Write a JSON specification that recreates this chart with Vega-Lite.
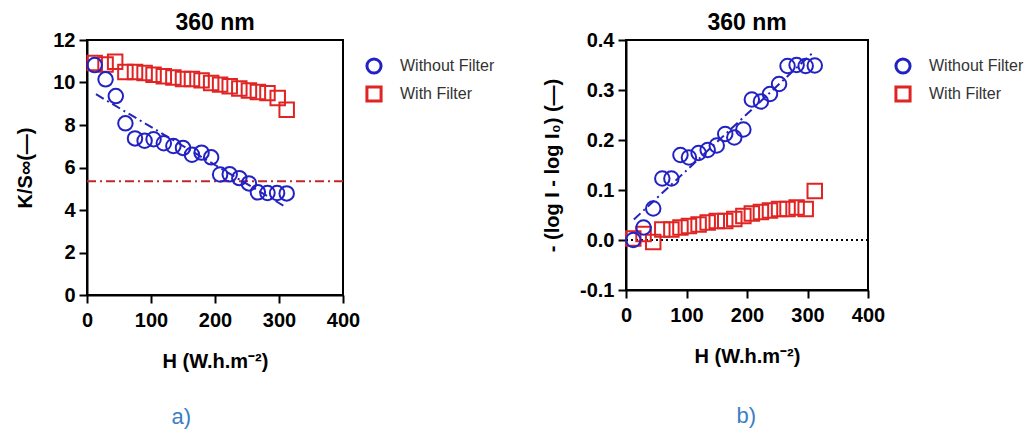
{
  "$schema": "https://vega.github.io/schema/vega-lite/v6.json",
  "background": "white",
  "padding": {"left": 14, "top": 11, "right": 5, "bottom": 5},
  "config": {
    "font": "Liberation Sans",
    "view": {"stroke": "black", "strokeWidth": 2},
    "axis": {
      "grid": false, "domainColor": "black", "domainWidth": 2,
      "tickColor": "black", "tickWidth": 2, "tickSize": 8, "labelFlush": false,
      "labelFont": "Liberation Sans", "labelFontWeight": "bold", "labelFontSize": 20,
      "labelColor": "black", "labelPadding": 4,
      "titleFont": "Liberation Sans", "titleFontWeight": "bold", "titleFontSize": 20, "titleColor": "black"
    },
    "axisX": {"labelPadding": 7, "titlePadding": 21},
    "legend": {
      "labelFont": "Liberation Sans", "labelFontSize": 16, "labelColor": "#333333",
      "symbolSize": 200, "symbolStrokeWidth": 3, "symbolFillColor": "transparent",
      "rowPadding": 0, "labelOffset": 17, "padding": 0
    },
    "title": {"font": "Liberation Sans", "fontSize": 23, "fontWeight": "bold", "color": "black"}
  },
  "datasets": {
    "ks": [
      {"H": 12, "v": 10.92, "s": "With Filter"},
      {"H": 29, "v": 10.85, "s": "With Filter"},
      {"H": 44, "v": 10.98, "s": "With Filter"},
      {"H": 60, "v": 10.49, "s": "With Filter"},
      {"H": 75, "v": 10.49, "s": "With Filter"},
      {"H": 90, "v": 10.45, "s": "With Filter"},
      {"H": 104, "v": 10.37, "s": "With Filter"},
      {"H": 120, "v": 10.29, "s": "With Filter"},
      {"H": 135, "v": 10.24, "s": "With Filter"},
      {"H": 150, "v": 10.16, "s": "With Filter"},
      {"H": 164, "v": 10.16, "s": "With Filter"},
      {"H": 179, "v": 10.1, "s": "With Filter"},
      {"H": 194, "v": 9.98, "s": "With Filter"},
      {"H": 208, "v": 9.9, "s": "With Filter"},
      {"H": 223, "v": 9.82, "s": "With Filter"},
      {"H": 238, "v": 9.72, "s": "With Filter"},
      {"H": 253, "v": 9.62, "s": "With Filter"},
      {"H": 267, "v": 9.55, "s": "With Filter"},
      {"H": 282, "v": 9.5, "s": "With Filter"},
      {"H": 298, "v": 9.27, "s": "With Filter"},
      {"H": 312, "v": 8.72, "s": "With Filter"},
      {"H": 12, "v": 10.82, "s": "Without Filter"},
      {"H": 29, "v": 10.15, "s": "Without Filter"},
      {"H": 45, "v": 9.36, "s": "Without Filter"},
      {"H": 60, "v": 8.08, "s": "Without Filter"},
      {"H": 75, "v": 7.37, "s": "Without Filter"},
      {"H": 90, "v": 7.26, "s": "Without Filter"},
      {"H": 104, "v": 7.33, "s": "Without Filter"},
      {"H": 120, "v": 7.14, "s": "Without Filter"},
      {"H": 135, "v": 7.01, "s": "Without Filter"},
      {"H": 150, "v": 6.92, "s": "Without Filter"},
      {"H": 164, "v": 6.6, "s": "Without Filter"},
      {"H": 179, "v": 6.7, "s": "Without Filter"},
      {"H": 194, "v": 6.48, "s": "Without Filter"},
      {"H": 208, "v": 5.67, "s": "Without Filter"},
      {"H": 223, "v": 5.68, "s": "Without Filter"},
      {"H": 238, "v": 5.5, "s": "Without Filter"},
      {"H": 253, "v": 5.25, "s": "Without Filter"},
      {"H": 267, "v": 4.83, "s": "Without Filter"},
      {"H": 282, "v": 4.8, "s": "Without Filter"},
      {"H": 297, "v": 4.8, "s": "Without Filter"},
      {"H": 312, "v": 4.78, "s": "Without Filter"}
    ],
    "ksfit": [{"H": 14, "v": 9.45}, {"H": 310, "v": 4.15}],
    "ksref": [{"v": 5.35}],
    "ab": [
      {"H": 12, "v": 0.003, "s": "With Filter"},
      {"H": 29, "v": 0.012, "s": "With Filter"},
      {"H": 45, "v": -0.004, "s": "With Filter"},
      {"H": 60, "v": 0.021, "s": "With Filter"},
      {"H": 75, "v": 0.021, "s": "With Filter"},
      {"H": 90, "v": 0.025, "s": "With Filter"},
      {"H": 104, "v": 0.028, "s": "With Filter"},
      {"H": 120, "v": 0.031, "s": "With Filter"},
      {"H": 135, "v": 0.035, "s": "With Filter"},
      {"H": 150, "v": 0.038, "s": "With Filter"},
      {"H": 164, "v": 0.038, "s": "With Filter"},
      {"H": 179, "v": 0.042, "s": "With Filter"},
      {"H": 194, "v": 0.048, "s": "With Filter"},
      {"H": 208, "v": 0.053, "s": "With Filter"},
      {"H": 223, "v": 0.056, "s": "With Filter"},
      {"H": 238, "v": 0.059, "s": "With Filter"},
      {"H": 253, "v": 0.062, "s": "With Filter"},
      {"H": 267, "v": 0.062, "s": "With Filter"},
      {"H": 282, "v": 0.065, "s": "With Filter"},
      {"H": 297, "v": 0.062, "s": "With Filter"},
      {"H": 312, "v": 0.098, "s": "With Filter"},
      {"H": 12, "v": 0.0, "s": "Without Filter"},
      {"H": 29, "v": 0.025, "s": "Without Filter"},
      {"H": 45, "v": 0.063, "s": "Without Filter"},
      {"H": 60, "v": 0.123, "s": "Without Filter"},
      {"H": 75, "v": 0.123, "s": "Without Filter"},
      {"H": 90, "v": 0.17, "s": "Without Filter"},
      {"H": 104, "v": 0.165, "s": "Without Filter"},
      {"H": 120, "v": 0.174, "s": "Without Filter"},
      {"H": 135, "v": 0.18, "s": "Without Filter"},
      {"H": 150, "v": 0.189, "s": "Without Filter"},
      {"H": 164, "v": 0.212, "s": "Without Filter"},
      {"H": 179, "v": 0.205, "s": "Without Filter"},
      {"H": 194, "v": 0.221, "s": "Without Filter"},
      {"H": 208, "v": 0.281, "s": "Without Filter"},
      {"H": 223, "v": 0.277, "s": "Without Filter"},
      {"H": 238, "v": 0.292, "s": "Without Filter"},
      {"H": 253, "v": 0.312, "s": "Without Filter"},
      {"H": 267, "v": 0.348, "s": "Without Filter"},
      {"H": 282, "v": 0.35, "s": "Without Filter"},
      {"H": 297, "v": 0.348, "s": "Without Filter"},
      {"H": 312, "v": 0.349, "s": "Without Filter"}
    ],
    "abfit": [{"H": 13, "v": 0.041}, {"H": 310, "v": 0.376}],
    "abref": [{"v": 0}]
  },
  "spacing": 45,
  "resolve": {"scale": {"color": "independent", "shape": "independent"}, "legend": {"color": "independent", "shape": "independent"}},
  "hconcat": [
    {
      "title": {"text": "a)", "orient": "bottom", "anchor": "middle", "dx": -74, "color": "#3b7dc4", "fontSize": 22, "fontWeight": "normal", "offset": 35},
      "resolve": {"scale": {"color": "independent", "shape": "independent"}, "legend": {"color": "independent", "shape": "independent"}},
      "vconcat": [
        {
          "width": 256,
          "height": 255,
          "title": {"text": "360 nm", "offset": -5},
          "layer": [
            {
              "data": {"name": "ksref"},
              "mark": {"type": "rule", "color": "#c0282d", "strokeWidth": 2, "strokeDash": [9, 4, 2, 4]},
              "encoding": {"y": {"field": "v", "type": "quantitative"}}
            },
            {
              "data": {"name": "ksfit"},
              "mark": {"type": "line", "color": "#2424b8", "strokeWidth": 2, "strokeDash": [9, 4, 2, 4]},
              "encoding": {
                "x": {"field": "H", "type": "quantitative"},
                "y": {"field": "v", "type": "quantitative"}
              }
            },
            {
              "data": {"name": "ks"},
              "mark": {"type": "point", "filled": false, "strokeWidth": 2, "size": 210, "opacity": 1},
              "encoding": {
                "x": {"field": "H", "type": "quantitative", "scale": {"domain": [0, 400], "nice": false},
                      "axis": {"values": [0, 100, 200, 300, 400], "title": "H  (W.h.m⁻²)"}},
                "y": {"field": "v", "type": "quantitative", "scale": {"domain": [0, 12], "nice": false},
                      "axis": {"values": [0, 2, 4, 6, 8, 10, 12], "title": "K/S∞(—)", "titlePadding": 17}},
                "color": {"field": "s", "type": "nominal",
                          "scale": {"domain": ["Without Filter", "With Filter"], "range": ["#2222c4", "#e02424"]},
                          "legend": {"orient": "none", "legendX": 278, "legendY": 17, "title": null}},
                "shape": {"field": "s", "type": "nominal",
                          "scale": {"domain": ["Without Filter", "With Filter"], "range": ["circle", "square"]},
                          "legend": {"orient": "none", "legendX": 278, "legendY": 17, "title": null}}
              }
            }
          ]
        }
      ]
    },
    {
      "title": {"text": "b)", "orient": "bottom", "anchor": "middle", "dx": -37, "color": "#3b7dc4", "fontSize": 22, "fontWeight": "normal", "offset": 39},
      "resolve": {"scale": {"color": "independent", "shape": "independent"}, "legend": {"color": "independent", "shape": "independent"}},
      "vconcat": [
        {
          "width": 242,
          "height": 250,
          "title": {"text": "360 nm", "offset": -5},
          "layer": [
            {
              "data": {"name": "abref"},
              "mark": {"type": "rule", "color": "black", "strokeWidth": 2, "strokeDash": [2, 3]},
              "encoding": {"y": {"field": "v", "type": "quantitative"}}
            },
            {
              "data": {"name": "abfit"},
              "mark": {"type": "line", "color": "#2424b8", "strokeWidth": 2, "strokeDash": [9, 4, 2, 4]},
              "encoding": {
                "x": {"field": "H", "type": "quantitative"},
                "y": {"field": "v", "type": "quantitative"}
              }
            },
            {
              "data": {"name": "ab"},
              "mark": {"type": "point", "filled": false, "strokeWidth": 2, "size": 210, "opacity": 1},
              "encoding": {
                "x": {"field": "H", "type": "quantitative", "scale": {"domain": [0, 400], "nice": false},
                      "axis": {"values": [0, 100, 200, 300, 400], "title": "H  (W.h.m⁻²)"}},
                "y": {"field": "v", "type": "quantitative", "scale": {"domain": [-0.1, 0.4], "nice": false},
                      "axis": {"values": [-0.1, 0, 0.1, 0.2, 0.3, 0.4], "title": "- (log I - log I₀) (—)", "titlePadding": 17,
                               "labelExpr": "replace(format(datum.value, '.1f'), '−', '-')"}},
                "color": {"field": "s", "type": "nominal",
                          "scale": {"domain": ["Without Filter", "With Filter"], "range": ["#2222c4", "#e02424"]},
                          "legend": {"orient": "none", "legendX": 268, "legendY": 17, "title": null}},
                "shape": {"field": "s", "type": "nominal",
                          "scale": {"domain": ["Without Filter", "With Filter"], "range": ["circle", "square"]},
                          "legend": {"orient": "none", "legendX": 268, "legendY": 17, "title": null}}
              }
            }
          ]
        }
      ]
    }
  ]
}
